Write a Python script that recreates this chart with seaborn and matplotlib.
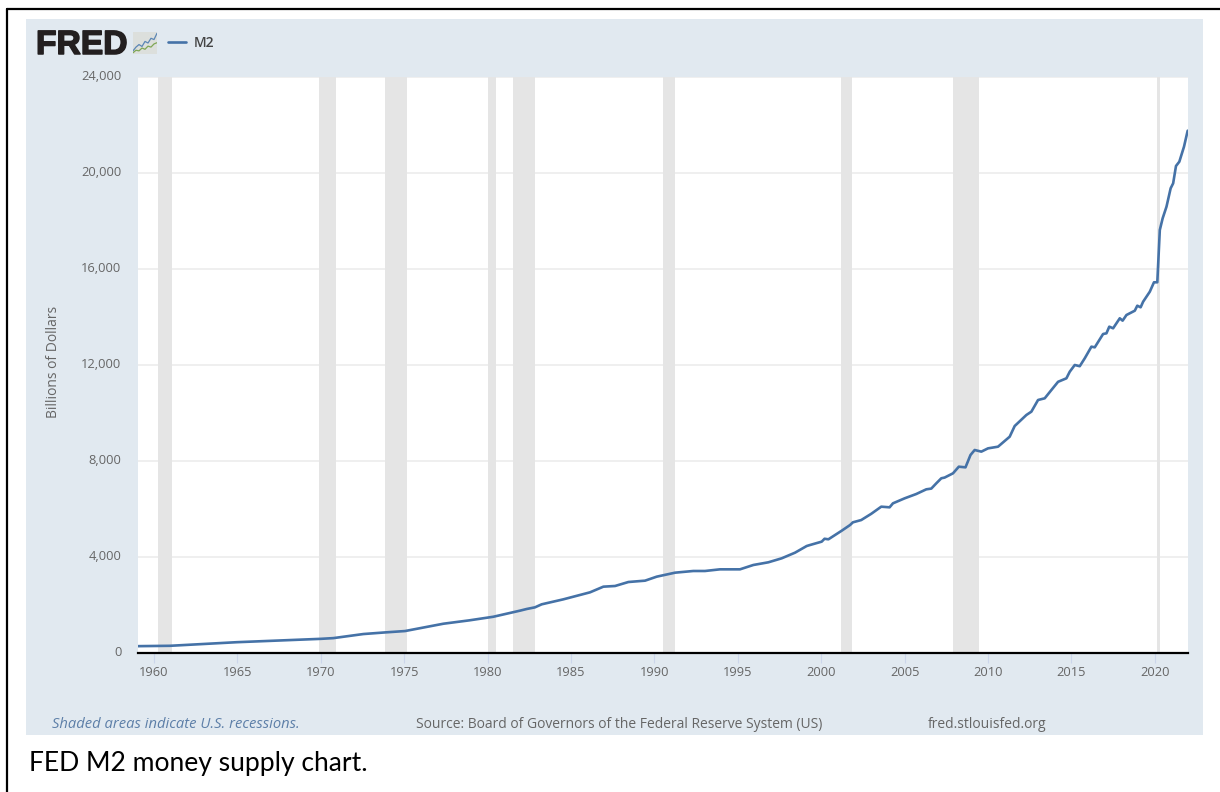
import matplotlib
matplotlib.use('Agg')
import matplotlib.pyplot as plt
import matplotlib.patheffects as pe
from matplotlib.patches import Rectangle
from matplotlib.transforms import ScaledTranslation
import pandas as pd
import seaborn as sns

W, H = 1220, 792

years = [1959.04, 1960.96, 1964.96, 1970.0, 1970.75, 1972.55, 1973.9, 1975.05, 1977.35, 1978.9, 1980.34,
         1981.94, 1982.34, 1982.84, 1983.24, 1984.54, 1986.14, 1986.94, 1987.64, 1988.44, 1989.44,
         1990.14, 1991.24, 1992.33, 1993.03, 1993.93, 1995.13, 1995.93, 1996.83, 1997.63, 1998.43,
         1999.13, 1999.33, 2000.03, 2000.2, 2000.43, 2001.23, 2001.73, 2001.9, 2002.4, 2003.0, 2003.6,
         2004.1, 2004.3, 2005.0, 2005.7, 2006.3, 2006.6, 2006.9, 2007.2, 2007.4, 2007.9, 2008.25, 2008.65,
         2008.95, 2009.2, 2009.6, 2010.0, 2010.6, 2011.3, 2011.6, 2012.3, 2012.6, 2013.0, 2013.4, 2013.8,
         2014.2, 2014.7, 2014.9, 2015.2, 2015.5, 2015.8, 2016.2, 2016.4, 2016.9, 2017.1, 2017.27, 2017.5,
         2017.9, 2018.07, 2018.3, 2018.8, 2018.95, 2019.15, 2019.3, 2019.7, 2019.95, 2020.15, 2020.3,
         2020.47, 2020.7, 2020.95, 2021.1, 2021.27, 2021.47, 2021.75, 2021.97]
m2 = [285, 300, 450, 590, 620, 790, 860, 915, 1220, 1360, 1510,
      1764, 1833, 1903, 2028, 2236, 2528, 2764, 2792, 2958, 3014,
      3181, 3347, 3417, 3417, 3486, 3486, 3667, 3779, 3945, 4180,
      4458, 4500, 4640, 4760, 4737, 5096, 5333, 5445, 5540, 5800, 6097,
      6070, 6236, 6444, 6625, 6820, 6850, 7070, 7280, 7310, 7486, 7763, 7736,
      8250, 8458, 8390, 8527, 8596, 9013, 9458, 9917, 10056, 10542, 10612, 10958,
      11300, 11445, 11720, 12000, 11950, 12279, 12764, 12736, 13292, 13320, 13597, 13529,
      13946, 13847, 14083, 14263, 14471, 14404, 14638, 15054, 15446, 15446, 17625,
      18112, 18596, 19362, 19570, 20292, 20471, 21096, 21763]

recession_start = [1960.25, 1969.92, 1973.83, 1980.0, 1981.5, 1990.5, 2001.2, 2007.9, 2020.12]
recession_end = [1961.08, 1970.9, 1975.15, 1980.5, 1982.85, 1991.22, 2001.85, 2009.45, 2020.3]

y_ticks = [0, 4000, 8000, 12000, 16000, 20000, 24000]
x_ticks = [1960, 1965, 1970, 1975, 1980, 1985, 1990, 1995, 2000, 2005, 2010, 2015, 2020]

icon_x = [0, 1, 2, 3, 4, 5, 6, 7, 8]
icon_blue = [1.0, 2.2, 3.0, 2.4, 4.0, 3.5, 5.0, 4.6, 6.6]
icon_green = [0.4, 1.2, 1.0, 1.9, 1.5, 2.5, 2.2, 3.2, 3.6]

sns.set_theme(style='white')
plt.rcParams['font.family'] = ['Open Sans', 'DejaVu Sans']

fig = plt.figure(figsize=(W / 100, H / 100), dpi=100, facecolor='white')


def fx(px):
    return px / W


def fy(py):
    return 1 - py / H


# blue panel behind everything
fig.add_artist(Rectangle((fx(26), fy(735)), fx(1177), 716 / H, transform=fig.transFigure,
                         facecolor='#e1e9f0', edgecolor='none', zorder=-5))
# black frame of the screenshot
fig.add_artist(plt.Line2D([fx(7), fx(7)], [fy(9), 0], color='black', lw=1.6))
fig.add_artist(plt.Line2D([fx(7), 1], [fy(9), fy(9)], color='black', lw=1.6))

ax = fig.add_axes([fx(138), fy(653), fx(1050), 576 / H])
ax.set_facecolor('white')

df = pd.DataFrame({'year': years, 'M2': m2})
sns.lineplot(data=df, x='year', y='M2', color='#4572a7', lw=1.9, ax=ax, label='M2', zorder=4)

for s, e in zip(recession_start, recession_end):
    ax.axvspan(s, e, facecolor='#e5e5e5', edgecolor='none', zorder=2)

ax.set_xlim(1959.04, 2021.99)
ax.set_ylim(0, 24000)
ax.set_xticks(x_ticks)
ax.set_yticks(y_ticks)
ax.set_yticklabels([f'{v:,}' for v in y_ticks])
ax.grid(axis='y', color='#ececec', lw=1.2, zorder=1)
ax.grid(axis='x', visible=False)
ax.set_axisbelow(True)

for side in ['top', 'right', 'left']:
    ax.spines[side].set_visible(False)
ax.spines['bottom'].set_color('black')
ax.spines['bottom'].set_linewidth(1.6)
ax.spines['bottom'].set_zorder(6)

ax.tick_params(axis='x', length=7, width=0.8, color='#ccd6eb', labelcolor='#666666', labelsize=9.3, pad=2,
               bottom=True)
ax.tick_params(axis='y', length=0, labelcolor='#666666', labelsize=9.3, pad=12)
# y labels sit a little above their gridlines
for lab in ax.get_yticklabels():
    lab.set_transform(lab.get_transform() + ScaledTranslation(0, 2 / 100, fig.dpi_scale_trans))
ax.set_xlabel('')
ax.set_ylabel('Billions of Dollars', color='#666666', fontsize=10)
ax.yaxis.set_label_coords((61 - 138) / 1050, 0.505)

leg = ax.legend(loc='center left', bbox_to_anchor=(fx(168), fy(43)), bbox_transform=fig.transFigure,
                frameon=False, fontsize=10, handlelength=1.3, handletextpad=0.55, borderpad=0, borderaxespad=0)
leg.get_texts()[0].set_color('#444444')
leg.get_texts()[0].set_fontweight('semibold')

# logo
fig.text(fx(36), fy(54), 'FRED', family='Liberation Sans', fontweight='bold', fontsize=24.2, color='#231f20',
         path_effects=[pe.withStroke(linewidth=1.1, foreground='#231f20')])

icon = fig.add_axes([fx(133), fy(54), fx(24), 22 / H])
icon.set_facecolor('#dcdfdc')
sns.lineplot(x=icon_x, y=icon_blue, color='#5b86b5', lw=0.9, ax=icon)
sns.lineplot(x=icon_x, y=icon_green, color='#7fa655', lw=0.9, ax=icon)
icon.set_xlim(0, 8)
icon.set_ylim(0, 7)
icon.set_xticks([])
icon.set_yticks([])
icon.set_xlabel('')
icon.set_ylabel('')
sns.despine(ax=icon, left=True, bottom=True)

fig.text(fx(52), fy(725), 'Shaded areas indicate U.S. recessions.', fontsize=10.6, style='italic',
         color='#5d7fa8', va='center')
fig.text(fx(416), fy(725), 'Source: Board of Governors of the Federal Reserve System (US)', fontsize=10.03,
         color='#666666', va='center')
fig.text(fx(928), fy(725), 'fred.stlouisfed.org', fontsize=10, color='#666666', va='center')
fig.text(fx(29), fy(763), 'FED M2 money supply chart.', family='Lato', fontsize=19.1, color='black', va='center')

fig.savefig('out.png', dpi=100, facecolor='white')
